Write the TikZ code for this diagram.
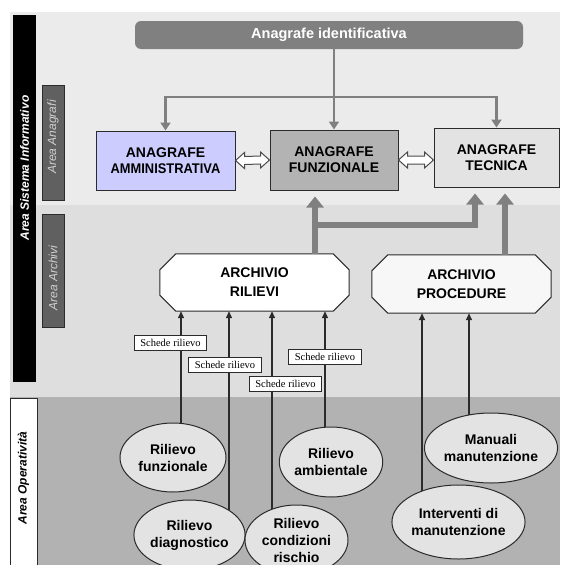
\documentclass[tikz,border=0pt]{standalone}
\usepackage{fontspec}
\setmainfont{Liberation Sans}
\newfontfamily\notefont{Liberation Serif}
\usetikzlibrary{shapes.geometric,arrows.meta,calc}
\pgfdeclarelayer{areas}
\pgfdeclarelayer{links}
\pgfsetlayers{areas,links,main}

\definecolor{areaA}{HTML}{EBEBEB}
\definecolor{areaB}{HTML}{DEDEDE}
\definecolor{areaC}{HTML}{B2B2B2}
\definecolor{linkgray}{HTML}{808080}
\definecolor{edgecol}{HTML}{2B2B2B}
\definecolor{lav}{HTML}{CCCCFF}
\definecolor{funzfill}{HTML}{B3B3B3}
\definecolor{tecfill}{HTML}{E3E3E3}
\definecolor{ellfill}{HTML}{E3E3E3}
\definecolor{procfill}{HTML}{F7F7F7}
\definecolor{tabgray}{HTML}{606060}
\definecolor{tabtextcol}{HTML}{D0D0D0}

% chamfered frame drawn around a (borderless) text node
\newcommand{\chamferframe}[2]{%
  \path[octo,fill=#2]
    ([xshift=16pt]#1.north west) -- ([xshift=-16pt]#1.north east)
    -- ([yshift=-16pt]#1.north east) -- ([yshift=16pt]#1.south east)
    -- ([xshift=-16pt]#1.south east) -- ([xshift=16pt]#1.south west)
    -- ([yshift=16pt]#1.south west) -- ([yshift=-16pt]#1.north west) -- cycle;}

\tikzset{
  anabox/.style={draw=edgecol, line width=1pt, minimum width=#1, minimum height=59pt,
    inner sep=0pt, align=center, font=\fontsize{14}{16}\selectfont\bfseries},
  archtext/.style={inner sep=0pt, align=center, font=\fontsize{14}{19}\selectfont\bfseries},
  octo/.style={draw=edgecol, line width=1pt, line join=miter},
  ellnode/.style={ellipse, draw=edgecol, line width=1pt, fill=ellfill, inner sep=0pt,
    align=center, font=\fontsize{14}{17}\selectfont\bfseries},
  tab/.style={draw=edgecol, line width=0.8pt, fill=tabgray, inner sep=0pt},
  tabtext/.style={rotate=90, inner sep=0pt, text=#1, font=\fontsize{12}{14}\selectfont\itshape},
  treearrow/.style={draw=linkgray, line width=2.5pt, line join=miter, -{Triangle[width=10pt,length=8pt]}},
  bigarrow/.style={draw=linkgray, line width=5.5pt, line join=miter, -{Triangle[width=17pt,length=11pt]}, shorten >=6pt},
  feedarrow/.style={draw=edgecol, line width=1.4pt, -{Triangle[width=6pt,length=7pt]}},
  scheda/.style={draw=edgecol, line width=0.8pt, fill=white, inner xsep=6pt, inner ysep=0pt,
    minimum height=15pt, font=\notefont\fontsize{10.5}{12}\selectfont},
  dblarrow/.style={draw=edgecol!85, line width=1pt, fill=white, line join=miter},
}

\begin{document}
\begin{tikzpicture}[x=1pt,y=-1pt]
\useasboundingbox (0,0) rectangle (560,565);

% area backgrounds
\begin{pgfonlayer}{areas}
  \fill[white] (0,0) rectangle (560,565);
  \fill[areaA] (10,12) rectangle (560,205);
  \fill[areaB] (10,205) rectangle (560,397);
  \fill[areaC] (10,397) rectangle (560,565);
\end{pgfonlayer}

% side tabs
\node[fill=black, inner sep=0pt, minimum width=23pt, minimum height=367pt] (sisbar) at (24.5,198.5) {};
\node[rotate=90, inner sep=0pt, text=white, font=\fontsize{12}{14}\selectfont\bfseries\itshape] (sistxt) at (24.5,168) {Area Sistema Informativo};
\node[tab, minimum width=22pt, minimum height=115pt] (anatab) at (53,142.5) {};
\node[tabtext=tabtextcol] (anatxt) at (53,137) {Area Anagrafi};
\node[tab, minimum width=22pt, minimum height=113pt] (archtab) at (53,270.5) {};
\node[tabtext=tabtextcol] (archtxt) at (53,278) {Area Archivi};
\node[draw=edgecol, line width=1pt, fill=white, inner sep=0pt, minimum width=27pt, minimum height=172pt] (optab) at (23.5,484) {};
\node[rotate=90, inner sep=0pt, text=black, font=\fontsize{12}{14}\selectfont\bfseries\itshape] (optxt) at (23.5,478) {Area Operatività};

% registries
\node[fill=linkgray, rounded corners=6pt, minimum width=388pt, minimum height=28pt, inner sep=0pt,
  text=white, font=\fontsize{14.5}{16}\selectfont\bfseries] (ident) at (329,35) {Anagrafe identificativa};
\node[anabox=139pt, fill=lav] (amm) at (165.5,160.5) {ANAGRAFE\\\scalebox{0.92}[1]{AMMINISTRATIVA}};
\node[anabox=128pt, minimum height=60pt, fill=funzfill] (funz) at (334,160) {ANAGRAFE\\FUNZIONALE};
\node[anabox=125pt, fill=tecfill] (tecn) at (496.5,157.5) {ANAGRAFE\\TECNICA};

% archives
\node[archtext, minimum width=189pt, minimum height=57pt] (arcril) at (254.5,282.5) {ARCHIVIO\\RILIEVI};
\node[archtext, minimum width=179pt, minimum height=58pt] (arcproc) at (461.5,284) {ARCHIVIO\\PROCEDURE};
\begin{pgfonlayer}{links}
  \chamferframe{arcril}{white}
  \chamferframe{arcproc}{procfill}
\end{pgfonlayer}

% field activities
\node[ellnode, minimum width=106pt, minimum height=69pt] (rfun) at (173,457.5) {Rilievo\\funzionale};
\node[ellnode, minimum width=100pt, minimum height=70pt] (ramb) at (331,462) {Rilievo\\ambientale};
\node[ellnode, minimum width=103pt, minimum height=70pt] (rdia) at (189.5,535) {Rilievo\\diagnostico};
\node[ellnode, minimum width=103pt, minimum height=70pt] (rcon) at (296.5,540) {Rilievo\\condizioni\\rischio};
\node[ellnode, minimum width=130pt, minimum height=70pt] (mman) at (491,448) {Manuali\\manutenzione};
\node[ellnode, minimum width=127pt, minimum height=74pt] (iman) at (458.5,522) {Interventi di\\manutenzione};

% distribution from the identification registry
\coordinate (hub) at (334,97);
\draw[treearrow] (ident.south -| funz.north) -- (funz.north);
\draw[treearrow] (hub) -| (amm.north);
\draw[treearrow] (hub) -| (tecn.north);

% exchanges between registries
\path[dblarrow] (amm.east) -- ++(9,-8) -- ++(0,4) -- ($(funz.west)+(-9,-4)$) -- ++(0,-4)
  -- (funz.west) -- ++(-9,8) -- ++(0,-4) -- ($(amm.east)+(9,4)$) -- ++(0,4) -- cycle;
\path[dblarrow] (funz.east) -- ++(9,-8) -- ++(0,4) -- ($(tecn.west |- funz.east)+(-9,-4)$) -- ++(0,-4)
  -- (tecn.west |- funz.east) -- ++(-9,8) -- ++(0,-4) -- ($(funz.east)+(9,4)$) -- ++(0,4) -- cycle;

% archives feeding the registries
\coordinate (t1) at (315,0);
\coordinate (t2) at (475,0);
\coordinate (t3) at (505,0);
\coordinate (j1) at (315,225);
\begin{pgfonlayer}{links}
  \draw[bigarrow] (arcril.north -| t1) -- (funz.south -| t1);
  \draw[bigarrow] (j1) -| (tecn.south -| t2);
  \draw[bigarrow] (arcproc.north -| t3) -- (tecn.south -| t3);
\end{pgfonlayer}

% field activities feeding the archives
\coordinate (c1) at (181,0);
\coordinate (c2) at (229,0);
\coordinate (c3) at (272,0);
\coordinate (c4) at (325,0);
\coordinate (c5) at (422,0);
\coordinate (c6) at (469,0);
\begin{pgfonlayer}{links}
  \draw[feedarrow] (rfun.center -| c1) -- (arcril.south -| c1);
  \draw[feedarrow] (rdia.center -| c2) -- (arcril.south -| c2);
  \draw[feedarrow] (rcon.center -| c3) -- (arcril.south -| c3);
  \draw[feedarrow] (ramb.center -| c4) -- (arcril.south -| c4);
  \draw[feedarrow] (iman.center -| c5) -- (arcproc.south -| c5);
  \draw[feedarrow] (mman.center -| c6) -- (arcproc.south -| c6);
\end{pgfonlayer}

% record labels
\node[scheda] (s1) at (170.5,343) {Schede rilievo};
\node[scheda] (s2) at (225,364.5) {Schede rilievo};
\node[scheda] (s3) at (285.5,384) {Schede rilievo};
\node[scheda] (s4) at (325,356.5) {Schede rilievo};
\end{tikzpicture}
\end{document}
